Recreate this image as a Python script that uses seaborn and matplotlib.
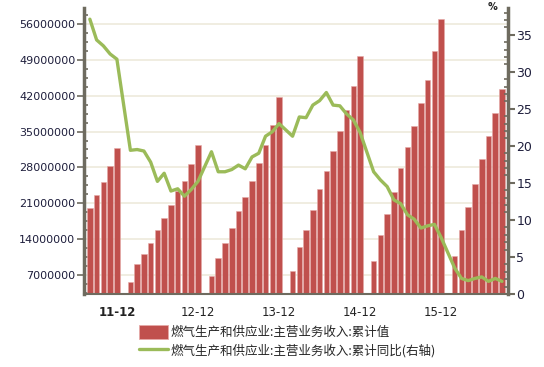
import numpy as np
import pandas as pd
import matplotlib
matplotlib.use("Agg")
import matplotlib.pyplot as plt
import seaborn as sns
from matplotlib.patches import Patch
from matplotlib.lines import Line2D
from matplotlib.ticker import FixedLocator, MultipleLocator, FuncFormatter

# monthly series, Aug 2011 .. Sep 2016 (January is not published -> NaN)
months = pd.period_range("2011-08", "2016-09", freq="M")

# cumulative revenue, millions
revenue_cum = [
    20.0, 22.6, 25.2, 28.2, 31.8,
    np.nan, 5.7, 9.1, 11.1, 13.2, 15.8, 18.1, 20.7, 23.3, 25.4, 28.6, 32.4,
    np.nan, 6.8, 10.3, 13.2, 16.2, 19.4, 22.2, 25.4, 28.8, 32.4, 36.2, 41.8,
    np.nan, 7.8, 12.4, 15.8, 19.6, 23.7, 27.3, 31.2, 35.1, 39.2, 43.9, 49.8,
    np.nan, 9.8, 14.9, 19.0, 23.2, 27.9, 32.0, 36.0, 40.5, 45.1, 50.7, 56.9,
    np.nan, 10.7, 15.8, 20.2, 24.8, 29.6, 34.1, 38.6, 43.3,
]

# cumulative yoy growth, %
yoy_cum = [
    37.1, 34.3, 33.5, 32.4, 31.7,
    np.nan, 19.4, 19.5, 19.3, 17.8, 15.2, 16.3, 13.9, 14.2, 13.2, 14.1, 15.2,
    np.nan, 19.2, 16.5, 16.5, 16.8, 17.4, 16.9, 18.5, 19.0, 21.3, 21.9, 23.0,
    np.nan, 21.3, 23.9, 23.8, 25.5, 26.1, 27.2, 25.5, 25.4, 24.3, 23.5, 21.8,
    np.nan, 16.5, 15.4, 14.5, 12.7, 12.2, 10.7, 10.1, 8.9, 9.2, 9.4, 7.6,
    np.nan, 3.5, 2.1, 1.8, 2.1, 2.3, 1.7, 2.1, 1.7,
]

tick_labels = ["11-12", "12-12", "13-12", "14-12", "15-12"]
bar_label = "燃气生产和供应业:主营业务收入:累计值"
line_label = "燃气生产和供应业:主营业务收入:累计同比(右轴)"

BAR_COLOR = "#c0504d"
LINE_COLOR = "#9bbb59"
AXIS_COLOR = "#6e6b5f"
GRID_COLOR = "#eeeadb"
TEXT_COLOR = "#1e1e3c"

df = pd.DataFrame({
    "idx": np.arange(len(months)),
    "month": months.month,
    "revenue": np.array(revenue_cum) * 1e6,
    "yoy": yoy_cum,
})
bars = df.dropna(subset=["revenue"])
line = df.dropna(subset=["yoy"])

sns.set_theme(style="white")
plt.rcParams["font.family"] = ["DejaVu Sans", "Noto Sans CJK SC"]

fig = plt.figure(figsize=(5.44, 3.67), dpi=100)
ax = fig.add_axes([0.154, 0.199, 0.78, 0.779])

sns.barplot(data=bars, x="idx", y="revenue", native_scale=True, color=BAR_COLOR,
            saturation=1, width=0.82, errorbar=None, edgecolor="#e6aaa8",
            linewidth=0.4, ax=ax, zorder=2)

ax.set_xlim(-0.9, len(months) - 0.1)
ax.set_ylim(3.3e6, 59.1e6)
ax.set_xlabel("")
ax.set_ylabel("")

# left axis
ax.yaxis.set_major_locator(FixedLocator([7e6 * k for k in range(1, 9)]))
ax.yaxis.set_minor_locator(MultipleLocator(7e6 / 4))
ax.yaxis.set_major_formatter(FuncFormatter(lambda v, p: f"{int(round(v))}"))
ax.grid(axis="y", color=GRID_COLOR, lw=1.2, zorder=0)
ax.set_axisbelow(True)

# x axis: december majors, quarterly minors
dec_idx = df.loc[df["month"] == 12, "idx"].tolist()
ax.xaxis.set_major_locator(FixedLocator(dec_idx))
ax.set_xticklabels(tick_labels)
ax.xaxis.set_minor_locator(FixedLocator([i for i in df["idx"] if df["month"][i] % 3 == 0]))
ax.tick_params(axis="x", which="major", direction="out", length=6, width=1.2,
               color=AXIS_COLOR, labelsize=8.5, labelcolor="#222222", pad=3)
ax.tick_params(axis="x", which="minor", direction="out", length=3, width=1.2, color=AXIS_COLOR)
ax.get_xticklabels()[0].set_fontweight("bold")
ax.tick_params(axis="y", which="major", direction="out", length=5, width=1.2,
               color=AXIS_COLOR, labelsize=8, labelcolor=TEXT_COLOR, pad=1)
ax.tick_params(axis="y", which="minor", direction="in", length=3, width=1.2, color=AXIS_COLOR, left=True)

for side in ["top", "right"]:
    ax.spines[side].set_visible(False)
ax.spines["left"].set_color(AXIS_COLOR)
ax.spines["left"].set_linewidth(2.5)
ax.spines["bottom"].set_color(AXIS_COLOR)
ax.spines["bottom"].set_linewidth(1.5)

# right axis: yoy line
ax2 = ax.twinx()
sns.lineplot(data=line, x="idx", y="yoy", color=LINE_COLOR, lw=2.4, ax=ax2, zorder=3)
ax2.set_ylim(0, 38.6)
ax2.set_xlim(ax.get_xlim())
ax2.set_xlabel("")
ax2.set_ylabel("")
ax2.yaxis.set_major_locator(MultipleLocator(5))
ax2.yaxis.set_minor_locator(MultipleLocator(1))
ax2.tick_params(axis="y", which="major", direction="out", length=5, width=1.5,
                color=AXIS_COLOR, labelsize=9, labelcolor=TEXT_COLOR, pad=1)
ax2.tick_params(axis="y", which="minor", direction="in", length=3, width=1.2,
                color=AXIS_COLOR, right=True)
for side in ["top", "left", "bottom"]:
    ax2.spines[side].set_visible(False)
ax2.spines["right"].set_color(AXIS_COLOR)
ax2.spines["right"].set_linewidth(2.5)
ax2.grid(False)
fig.text(493 / 544, 1 - 7 / 367, "%", fontsize=7, fontweight="bold", color="#222222",
         ha="center", va="center")

handles = [Patch(facecolor=BAR_COLOR, edgecolor="#e6aaa8", lw=0.6),
           Line2D([0], [0], color=LINE_COLOR, lw=2.4)]
fig.legend(handles, [bar_label, line_label], loc="upper left",
           bbox_to_anchor=(139 / 544, 1 - 325 / 367), frameon=False,
           borderpad=0, borderaxespad=0, handlelength=2.3, handleheight=1.3,
           handletextpad=0.2, labelspacing=0.35,
           prop={"family": ["Noto Sans CJK SC", "DejaVu Sans"], "size": 9})

fig.savefig("out.png", dpi=100)
